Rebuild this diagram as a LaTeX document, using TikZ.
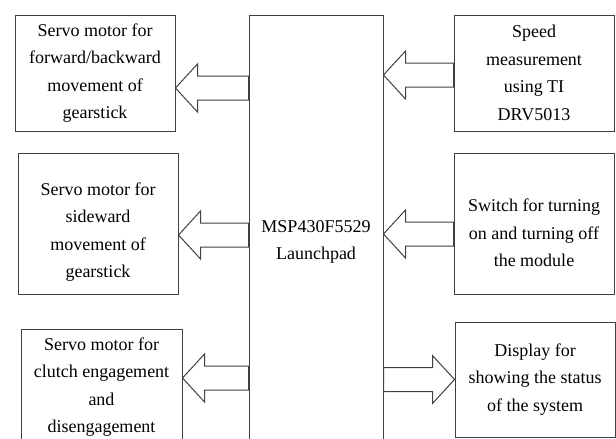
\documentclass[tikz,border=0pt]{standalone}
\usepackage{fontspec}
\setmainfont{Liberation Serif}
\usetikzlibrary{calc}

\begin{document}
\begin{tikzpicture}[
    x=1pt, y=-1pt,
    blk/.style={draw=black!75, line width=1pt, align=center, inner sep=0pt,
      minimum width=160pt, font=\fontsize{18}{27.5}\selectfont},
    mcu/.style={blk, minimum width=134pt, minimum height=454pt},
    fat/.style={draw=black!75, line width=1pt, to path={
      let \p1=(\tikztostart), \p2=(\tikztotarget), \n1={ifthenelse(\x2>\x1,1,-1)} in
      (\x1,\y1+12pt) -- (\x2-\n1*22pt,\y1+12pt) -- (\x2-\n1*22pt,\y1+24pt) -- (\x2,\y1)
      -- (\x2-\n1*22pt,\y1-24pt) -- (\x2-\n1*22pt,\y1-12pt) -- (\x1,\y1-12pt) -- cycle}},
]
\useasboundingbox (0,0) rectangle (616,439);
\clip (0,0) rectangle (616,439);
% controller in the middle
\node[mcu] (m) at (316,242) {MSP430F5529\\Launchpad};
% outputs on the left
\node[blk, minimum height=116pt] (l1) at (95,73) {Servo motor for\\forward/backward\\movement of\\gearstick};
\node[blk, minimum height=141pt] (l2) at (98,223.5) {\rule{0pt}{30pt}Servo motor for\\sideward\\movement of\\gearstick};
\node[blk, minimum height=116pt, minimum width=161pt] (l3) at (101.5,387) {Servo motor for\\clutch engagement\\and\\disengagement};
% inputs and display on the right
\node[blk, minimum height=116pt] (r1) at (534,73) {Speed\\measurement\\using TI\\DRV5013};
\node[blk, minimum height=141pt] (r2) at (534,223.5) {\rule{0pt}{32pt}Switch for turning\\on and turning off\\the module};
\node[blk, minimum height=115pt] (r3) at (535,379.5) {Display for\\showing the status\\of the system};
% block arrows
\coordinate (t1) at ([yshift=-15pt]l1.east);
\coordinate (t2) at ([yshift=-11.5pt]l2.east);
\coordinate (t3) at ([yshift=9pt]l3.east);
\coordinate (s1) at ([yshift=-2pt]r1.west);
\coordinate (s2) at ([yshift=-10.5pt]r2.west);
\draw[fat] (m.west |- t1) to (t1);
\draw[fat] (m.west |- t2) to (t2);
\draw[fat] (m.west |- t3) to (t3);
\draw[fat] (s1) to (m.east |- s1);
\draw[fat] (s2) to (m.east |- s2);
\draw[fat] (m.east |- r3.west) to (r3.west);
\end{tikzpicture}
\end{document}
